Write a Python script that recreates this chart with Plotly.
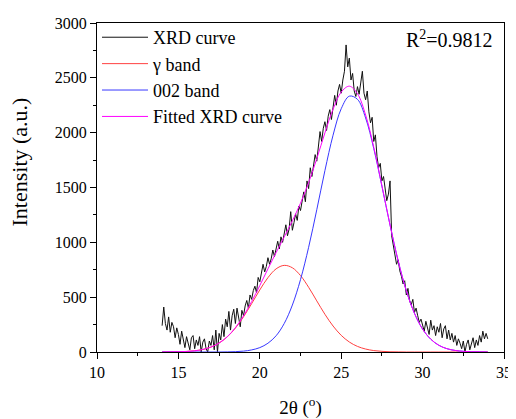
import plotly.graph_objects as go

# XRD measured curve: 2theta from 14.0 to 34.0, step 0.1
xrd_start = 14.0
xrd_step = 0.1
xrd_intensity = [
    # 14.0 - 18.9
    240, 410, 260, 200, 320, 180, 270, 230, 130, 220,
    160, 70, 190, 120, 40, 140, 90, 20, 130, 150,
    30, 110, 60, 140, 0, 90, 120, 30, 0, 100,
    60, 150, 20, 200, 0, 170, 110, 250, 140, 300,
    230, 370, 200, 330, 390, 260, 400, 300, 230, 380,
    # 19.0 - 28.9
    330, 420, 470, 400, 520, 480, 560, 600, 540, 680,
    640, 720, 800, 730, 780, 860, 800, 850, 930, 870,
    960, 1010, 940, 1050, 1000, 1080, 1160, 1060, 1120, 1280,
    1110, 1180, 1260, 1200, 1330, 1290, 1400, 1460, 1370, 1560,
    1490, 1680, 1600, 1720, 1800, 1740, 1880, 2010, 1920, 2040,
    2100, 2020, 2150, 2210, 2120, 2260, 2340, 2250, 2380, 2440,
    2360, 2480, 2560, 2800, 2600, 2680, 2480, 2540, 2380, 2330,
    2420, 2350, 2480, 2560, 2360, 2300, 2380, 2190, 2090, 2140,
    1920, 1980, 1780, 1680, 1720, 1560, 1600, 1470, 1380, 1440,
    1560, 1060, 960, 900, 800, 840, 740, 690, 620, 650,
    # 29.0 - 34.0
    520, 580, 470, 430, 480, 360, 400, 330, 270, 300,
    240, 190, 280, 220, 160, 290, 200, 240, 150, 230,
    180, 260, 130, 210, 240, 120, 200, 110, 170, 90,
    150, 60, 120, 80, 30, 100, 0, 70, 110, 20,
    90, 130, 40, 110, 60, 150, 90, 190, 120, 170,
    120,
]

# Fitted bands: 2theta from 14.0 to 34.0, step 0.5
band_start = 14.0
band_step = 0.5
gamma_band = [0, 1, 2, 5, 11, 23, 45, 82, 138, 218, 321, 441, 566, 678, 758, 790,
              768, 697, 590, 466, 344, 237, 152, 91, 51, 27, 13, 6, 2, 1,
              0, 0, 0, 0, 0, 0, 0, 0, 0, 0, 0]
band_002 = [0, 0, 0, 0, 0, 0, 0, 0, 1, 3, 8, 19, 40, 80, 148, 260, 428, 660, 955,
            1297, 1654, 1977, 2218, 2333, 2304, 2134, 1855, 1512, 1157, 830, 559,
            353, 209, 117, 61, 30, 14, 6, 2, 1, 0]
fitted_curve = [0, 1, 2, 5, 11, 23, 45, 82, 139, 221, 329, 460, 606, 758, 906, 1050,
                1196, 1357, 1545, 1763, 1998, 2214, 2370, 2424, 2355, 2161, 1868,
                1518, 1159, 831, 559, 353, 209, 117, 61, 30, 14, 6, 2, 1, 0]

x_ticks = [10, 15, 20, 25, 30, 35]
y_ticks = [0, 500, 1000, 1500, 2000, 2500, 3000]

FONT = "Liberation Serif"

fig = go.Figure()
fig.add_trace(go.Scatter(x0=xrd_start, dx=xrd_step, y=xrd_intensity, mode="lines",
                         name="XRD curve", legendgroup="a",
                         line=dict(color="#111111", width=1)))
fig.add_trace(go.Scatter(x0=band_start, dx=band_step, y=gamma_band, mode="lines",
                         name="γ band", legendgroup="b",
                         line=dict(color="#ff4040", width=1, shape="spline")))
fig.add_trace(go.Scatter(x0=band_start, dx=band_step, y=band_002, mode="lines",
                         name="002 band", legendgroup="c",
                         line=dict(color="#3838ff", width=1, shape="spline")))
fig.add_trace(go.Scatter(x0=band_start, dx=band_step, y=fitted_curve, mode="lines",
                         name="Fitted XRD curve", legendgroup="d",
                         line=dict(color="#ff00ff", width=1, shape="spline")))

axis_common = dict(
    showline=True, linecolor="black", linewidth=1, mirror=True,
    ticks="outside", ticklen=6, tickcolor="black", tickwidth=1,
    showgrid=False, zeroline=False, automargin=False,
    tickfont=dict(family=FONT, size=16, color="black"),
)

fig.update_xaxes(range=[10, 35], tickvals=x_ticks,
                 minor=dict(dtick=2.5, ticks="outside", ticklen=3, tickcolor="black"),
                 title=dict(text="2θ (<sup>o</sup>)", font=dict(family=FONT, size=19, color="black"),
                            standoff=20),
                 **axis_common)
fig.update_yaxes(range=[0, 3000], tickvals=y_ticks,
                 minor=dict(dtick=250, ticks="outside", ticklen=3, tickcolor="black"),
                 **axis_common)

# y-axis title (placed above the axis centre, as in the reference)
fig.add_annotation(text="Intensity (a.u.)", xref="paper", yref="paper",
                   x=0.0, y=0.576, xanchor="center", yanchor="middle",
                   xshift=-78, textangle=-90, showarrow=False,
                   font=dict(family=FONT, size=22, color="black"))

fig.add_annotation(text="R<sup>2</sup>=0.9812", xref="paper", yref="paper",
                   x=1.0, y=1.0, xanchor="right", yanchor="top", xshift=-9, yshift=-2,
                   showarrow=False,
                   font=dict(family=FONT, size=20, color="black"))

# page body has an 8px default margin, so the figure is offset by 8px
fig.update_layout(
    width=508, height=411,
    margin=dict(l=89, r=12, t=14, b=67),
    paper_bgcolor="white", plot_bgcolor="white",
    font=dict(family=FONT, size=16, color="black"),
    legend=dict(x=0.0, y=1.009, xanchor="left", yanchor="top",
                bgcolor="rgba(0,0,0,0)", traceorder="grouped", tracegroupgap=0,
                font=dict(family=FONT, size=18, color="black"),
                itemwidth=46),
    showlegend=True,
)

fig.write_html("out.html")
